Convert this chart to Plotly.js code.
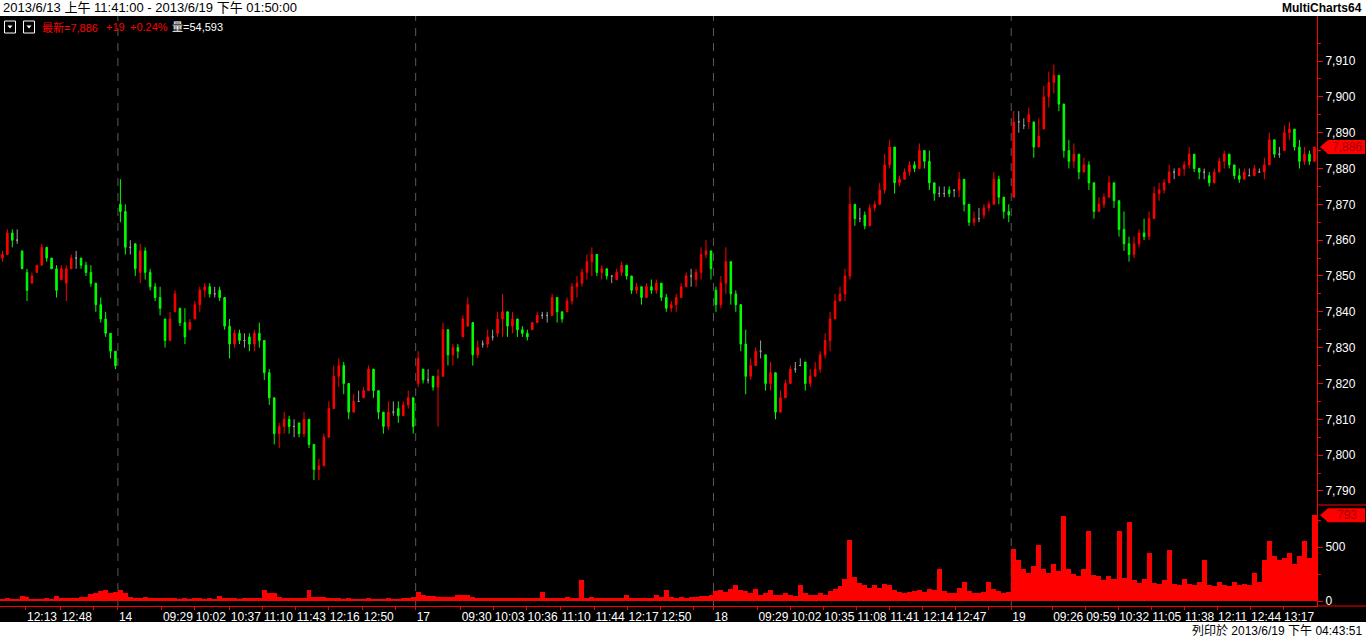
<!DOCTYPE html>
<html><head><meta charset="utf-8">
<script src="https://cdn.plot.ly/plotly-3.0.1.min.js"></script>
<style>html,body{margin:0;padding:0;background:#000;overflow:hidden}#chart{width:1366px;height:638px}</style>
</head><body><div id="chart"></div>
<script>
// ---- data (5-minute bars) ----
const sessionDays  = ['2013-06-13','2013-06-14','2013-06-17','2013-06-18','2013-06-19'];
const sessionOpen  = ['11:47:00','08:45:00','08:45:00','08:45:00','08:45:00'];
const sessionClose = ['13:45:00','13:43:00','13:43:00','13:43:00','13:51:00'];

const open13  = [7855,7856,7862,7860,7857,7851,7848,7851,7853,7858,7855,7852,7849,7848,7852,7855,7855,7853,7851,7848,7842,7838,7834,7829];
const high13  = [7857,7863,7863,7863,7857,7852,7851,7853,7859,7858,7855,7853,7853,7853,7856,7857,7855,7854,7853,7848,7844,7840,7834,7829];
const low13   = [7854,7856,7858,7859,7852,7843,7848,7851,7853,7854,7852,7844,7849,7843,7852,7852,7852,7850,7847,7840,7837,7833,7827,7824];
const close13 = [7856,7862,7860,7860,7852,7846,7850,7853,7858,7855,7852,7846,7852,7852,7855,7855,7853,7851,7848,7842,7838,7834,7829,7825];
const vol13   = [20,25,20,20,45,35,20,15,20,25,20,45,25,30,25,30,35,40,65,75,90,100,70,85];

const open14  = [7870,7868,7858,7859,7851,7857,7851,7847,7844,7838,7832,7840,7841,7837,7835,7838,7842,7846,7847,7845,7846,7844,7836,7831,7834,7832,7833,7831,7834,7832,7823,7816,7806,7808,7810,7808,7809,7806,7810,7803,7796,7797,7805,7813,7822,7825,7820,7812,7815,7816,7818,7824,7818,7812,7808,7812,7813,7811,7814,7816];
const high14  = [7877,7870,7860,7859,7859,7858,7852,7848,7847,7838,7840,7846,7841,7841,7838,7843,7847,7848,7848,7847,7847,7844,7838,7835,7835,7834,7834,7835,7837,7831,7824,7815,7809,7812,7811,7810,7809,7812,7808,7802,7799,7806,7815,7825,7827,7826,7818,7817,7818,7819,7825,7823,7816,7811,7815,7815,7815,7815,7818,7815];
const low14   = [7865,7856,7856,7850,7848,7849,7846,7843,7839,7830,7832,7840,7836,7831,7835,7838,7840,7844,7844,7844,7843,7835,7827,7830,7831,7830,7829,7829,7830,7821,7814,7803,7802,7806,7806,7805,7805,7805,7802,7793,7793,7797,7806,7815,7819,7817,7810,7812,7815,7816,7820,7816,7810,7806,7807,7811,7809,7811,7813,7806];
const close14 = [7868,7858,7858,7852,7857,7851,7847,7844,7841,7832,7838,7845,7837,7833,7837,7842,7846,7847,7845,7845,7844,7836,7831,7834,7832,7832,7831,7834,7832,7823,7816,7806,7808,7810,7808,7808,7806,7810,7803,7796,7797,7805,7813,7822,7825,7820,7812,7815,7815,7818,7824,7818,7812,7808,7812,7812,7811,7814,7816,7808];
const vol14   = [100,70,40,30,30,35,30,25,30,25,30,25,20,25,20,25,25,20,25,20,50,30,25,25,20,25,25,30,30,100,75,70,35,30,25,25,30,30,100,40,35,35,30,30,25,20,25,20,20,20,25,20,20,20,25,20,20,25,25,40];

const open17  = [7820,7824,7821,7822,7819,7822,7835,7828,7830,7833,7836,7837,7828,7831,7831,7833,7834,7838,7840,7836,7838,7835,7834,7835,7837,7839,7839,7839,7844,7840,7840,7843,7847,7848,7851,7854,7856,7851,7852,7850,7849,7851,7853,7850,7846,7847,7844,7847,7846,7848,7844,7841,7842,7844,7847,7850,7849,7851,7856,7857];
const high17  = [7829,7824,7824,7822,7824,7837,7832,7831,7831,7839,7844,7837,7832,7832,7835,7835,7840,7845,7840,7840,7837,7836,7835,7837,7840,7840,7840,7845,7844,7840,7844,7848,7850,7852,7856,7858,7854,7853,7852,7850,7852,7854,7853,7849,7848,7847,7848,7849,7849,7847,7845,7843,7845,7848,7851,7852,7852,7858,7860,7855];
const low17   = [7819,7820,7820,7818,7808,7824,7825,7825,7827,7833,7836,7825,7827,7830,7830,7832,7833,7833,7833,7834,7833,7833,7832,7835,7837,7838,7837,7839,7837,7837,7840,7842,7844,7847,7849,7850,7850,7849,7849,7848,7849,7850,7849,7845,7845,7842,7845,7845,7845,7843,7840,7840,7840,7844,7847,7847,7847,7849,7855,7849];
const close17 = [7827,7821,7821,7819,7822,7835,7828,7830,7829,7838,7842,7828,7830,7831,7833,7833,7838,7840,7836,7838,7835,7834,7833,7837,7839,7839,7839,7844,7840,7838,7843,7847,7848,7851,7854,7856,7851,7852,7850,7850,7851,7853,7850,7846,7847,7844,7847,7846,7848,7844,7841,7842,7844,7847,7850,7850,7851,7856,7857,7852];
const vol17   = [85,55,50,45,40,35,35,40,55,60,55,40,25,25,25,25,30,25,25,25,25,25,30,25,30,85,30,25,25,30,35,30,30,195,30,35,30,25,25,30,25,30,55,30,25,25,25,30,55,35,100,35,30,35,30,35,40,45,50,55];

const open18  = [7846,7842,7848,7854,7845,7842,7831,7822,7825,7829,7828,7820,7823,7812,7816,7820,7824,7825,7826,7820,7822,7824,7828,7832,7838,7843,7845,7850,7870,7866,7867,7864,7869,7870,7874,7881,7886,7876,7877,7879,7881,7880,7885,7882,7876,7873,7873,7874,7874,7874,7877,7870,7865,7866,7867,7869,7870,7877,7872,7868];
const high18  = [7847,7850,7858,7852,7846,7840,7835,7827,7830,7832,7828,7826,7821,7818,7821,7825,7826,7827,7826,7824,7826,7829,7834,7840,7845,7847,7852,7875,7869,7869,7868,7870,7871,7876,7884,7888,7882,7878,7880,7882,7882,7887,7885,7885,7876,7875,7875,7875,7874,7879,7877,7868,7868,7869,7870,7871,7879,7878,7870,7870];
const low18   = [7840,7841,7845,7842,7840,7829,7817,7821,7825,7827,7818,7818,7810,7813,7817,7822,7823,7825,7818,7819,7822,7823,7827,7829,7838,7843,7843,7849,7864,7865,7863,7866,7868,7870,7873,7880,7873,7875,7877,7878,7879,7880,7880,7874,7871,7872,7872,7872,7872,7872,7868,7864,7864,7865,7866,7868,7871,7870,7866,7865];
const close18 = [7842,7848,7854,7845,7842,7831,7822,7825,7829,7829,7820,7823,7812,7816,7820,7824,7824,7825,7820,7822,7824,7828,7832,7838,7843,7845,7850,7870,7866,7866,7864,7869,7870,7874,7881,7886,7876,7877,7879,7881,7880,7885,7882,7876,7873,7873,7873,7873,7874,7877,7870,7865,7866,7866,7869,7870,7877,7872,7868,7867];
const vol18   = [90,100,80,110,150,100,90,70,110,60,70,100,60,60,70,55,50,150,70,55,60,70,60,90,110,140,200,565,220,170,150,120,150,120,160,150,100,85,75,85,90,100,85,110,100,300,90,75,70,120,180,90,75,70,80,180,110,90,75,85];

const open19  = [7872,7893,7892,7893,7893,7886,7891,7900,7904,7906,7898,7885,7882,7884,7879,7881,7876,7868,7870,7872,7876,7871,7863,7859,7856,7859,7862,7861,7866,7873,7874,7876,7879,7878,7880,7881,7884,7880,7879,7878,7876,7879,7882,7884,7881,7878,7877,7878,7878,7879,7879,7881,7888,7884,7885,7890,7891,7886,7882,7884,7882];
const high19  = [7896,7896,7894,7897,7891,7894,7903,7907,7909,7906,7896,7888,7887,7883,7883,7882,7874,7872,7873,7878,7874,7870,7868,7861,7861,7863,7866,7868,7875,7876,7877,7881,7880,7880,7882,7886,7883,7880,7880,7879,7880,7883,7885,7884,7880,7880,7880,7880,7881,7880,7883,7890,7888,7886,7892,7893,7890,7888,7886,7885,7886];
const low19   = [7872,7890,7891,7891,7883,7886,7891,7897,7901,7896,7883,7880,7880,7877,7879,7874,7866,7868,7869,7872,7869,7861,7857,7854,7855,7858,7860,7860,7868,7871,7873,7876,7877,7878,7878,7880,7879,7877,7877,7875,7877,7880,7880,7880,7877,7876,7878,7878,7878,7879,7877,7882,7883,7883,7886,7888,7885,7880,7881,7881,7882];
const close19 = [7893,7893,7892,7895,7886,7889,7900,7904,7906,7898,7885,7882,7884,7879,7881,7876,7868,7870,7872,7876,7871,7863,7859,7856,7859,7862,7861,7866,7873,7874,7876,7879,7879,7880,7881,7884,7880,7879,7879,7876,7879,7882,7884,7881,7878,7877,7879,7878,7880,7879,7881,7888,7884,7884,7890,7891,7886,7882,7884,7882,7886];
const vol19   = [480,380,300,260,320,520,300,260,340,280,790,300,250,230,300,650,240,230,190,230,200,650,210,730,190,170,200,440,170,160,190,470,160,150,200,160,150,180,380,150,140,180,150,140,180,150,160,150,260,180,380,560,420,380,400,440,340,420,560,400,793];

const priceTicks = [7790,7800,7810,7820,7830,7840,7850,7860,7870,7880,7890,7900,7910];
const volumeTicks = [0, 500];
const tickTimes = ['2013-06-13 12:13','2013-06-13 12:48','2013-06-13 13:21','2013-06-14 08:45','2013-06-14 09:29','2013-06-14 10:02','2013-06-14 10:37','2013-06-14 11:10','2013-06-14 11:43','2013-06-14 12:16','2013-06-14 12:50','2013-06-14 13:23','2013-06-17 08:45','2013-06-17 09:30','2013-06-17 10:03','2013-06-17 10:36','2013-06-17 11:10','2013-06-17 11:44','2013-06-17 12:17','2013-06-17 12:50','2013-06-17 13:23','2013-06-18 08:45','2013-06-18 09:29','2013-06-18 10:02','2013-06-18 10:35','2013-06-18 11:08','2013-06-18 11:41','2013-06-18 12:14','2013-06-18 12:47','2013-06-18 13:20','2013-06-19 08:45','2013-06-19 09:26','2013-06-19 09:59','2013-06-19 10:32','2013-06-19 11:05','2013-06-19 11:38','2013-06-19 12:11','2013-06-19 12:44','2013-06-19 13:17'];
const tickLabels = ['12:13','12:48','','14','09:29','10:02','10:37','11:10','11:43','12:16','12:50','','17','09:30','10:03','10:36','11:10','11:44','12:17','12:50','','18','09:29','10:02','10:35','11:08','11:41','12:14','12:47','','19','09:26','09:59','10:32','11:05','11:38','12:11','12:44','13:17'];

const headerText = '2013/6/13 上午 11:41:00 - 2013/6/19 下午 01:50:00';
const brandText = 'MultiCharts64';
const printedText = '列印於 2013/6/19 下午 04:43:51';
const lastLabel = '最新=7,886';
const changeLabel = '+19';
const pctLabel = '+0.24%';
const volLabel = '量=54,593';

// ---- assemble ----
const opens = [open13, open14, open17, open18, open19];
const highs = [high13, high14, high17, high18, high19];
const lows = [low13, low14, low17, low18, low19];
const closes = [close13, close14, close17, close18, close19];
const vols = [vol13, vol14, vol17, vol18, vol19];

const X = [], O = [], H = [], L = [], C = [], V = [], BW = [];
sessionDays.forEach((d, i) => {
  const t0 = Date.parse(d + 'T' + sessionOpen[i] + 'Z');
  const t1 = Date.parse(d + 'T' + sessionClose[i] + 'Z');
  const n = opens[i].length, step = (t1 - t0) / n;
  opens[i].forEach((o, k) => {
    X.push(new Date(t0 + (k + 0.5) * step).toISOString().slice(0, 23).replace('T', ' '));
    O.push(o); H.push(highs[i][k]); L.push(lows[i][k]); C.push(closes[i][k]); V.push(vols[i][k]); BW.push(step);
  });
});

function subset(test) {
  const r = {x: [], open: [], high: [], low: [], close: []};
  X.forEach((x, i) => { if (test(O[i], C[i])) { r.x.push(x); r.open.push(O[i]); r.high.push(H[i]); r.low.push(L[i]); r.close.push(C[i]); } });
  return r;
}
function candle(d, col) {
  return Object.assign({type: 'candlestick', xaxis: 'x', yaxis: 'y', whiskerwidth: 0, hoverinfo: 'skip',
    increasing: {line: {color: col, width: 1}, fillcolor: col},
    decreasing: {line: {color: col, width: 1}, fillcolor: col}}, d);
}
const traces = [
  {type: 'bar', x: X, y: V, width: BW, xaxis: 'x', yaxis: 'y2', marker: {color: '#ff0000', line: {width: 0}}, hoverinfo: 'skip'},
  candle(subset((o, c) => c === o), '#a0a0a0'),
  candle(subset((o, c) => c > o), '#ff0000'),
  candle(subset((o, c) => c < o), '#00ff00')
];

const W = 1366, HT = 638, ML = 0, MR = 49, MT = 16, MB = 32;
const PW = W - ML - MR, PH = HT - MT - MB;
const px = v => (v - ML) / PW;
const py = v => (HT - MB - v) / PH;
const FONT = 'Liberation Sans, Noto Sans CJK TC, sans-serif';

const lastClose = C[C.length - 1];
const lastVol = V[V.length - 1];
const priceHalf = 7 / 3.583, volHalf = 7 / 0.108;

const nightBreaks = [];
for (let i = 0; i < sessionDays.length - 1; i++) nightBreaks.push({bounds: [sessionDays[i] + ' ' + sessionClose[i], sessionDays[i + 1] + ' ' + sessionOpen[i + 1]]});

const shapes = [
  {type: 'rect', xref: 'paper', yref: 'paper', x0: px(0), x1: px(W), y0: py(16), y1: py(0), fillcolor: '#ffffff', line: {width: 0}},
  {type: 'rect', xref: 'paper', yref: 'paper', x0: px(0), x1: px(W), y0: py(638), y1: py(622), fillcolor: '#ffffff', line: {width: 0}},
  {type: 'line', xref: 'paper', yref: 'paper', x0: 1, x1: px(W), y0: py(505), y1: py(505), line: {color: '#ff0000', width: 1}},
  {type: 'line', xref: 'paper', yref: 'paper', x0: 1, x1: px(W), y0: 0, y1: 0, line: {color: '#ff0000', width: 1}},
  {type: 'rect', xref: 'paper', yref: 'paper', x0: px(4.5), x1: px(15.5), y0: py(33), y1: py(21), line: {color: '#ffffff', width: 1}},
  {type: 'rect', xref: 'paper', yref: 'paper', x0: px(23.5), x1: px(34.5), y0: py(33), y1: py(21), line: {color: '#ffffff', width: 1}},
  {type: 'path', xref: 'paper', yref: 'paper', path: `M ${px(7.5)} ${py(25.5)} L ${px(12.5)} ${py(25.5)} L ${px(10)} ${py(28.5)} Z`, fillcolor: '#ffffff', line: {width: 0}},
  {type: 'path', xref: 'paper', yref: 'paper', path: `M ${px(26.5)} ${py(25.5)} L ${px(31.5)} ${py(25.5)} L ${px(29)} ${py(28.5)} Z`, fillcolor: '#ffffff', line: {width: 0}},
  {type: 'path', xref: 'paper', yref: 'y', path: `M ${px(1320)} ${lastClose} L ${px(1328)} ${lastClose + priceHalf} L ${px(1365)} ${lastClose + priceHalf} L ${px(1365)} ${lastClose - priceHalf} L ${px(1328)} ${lastClose - priceHalf} Z`, fillcolor: '#ff0000', line: {width: 0}},
  {type: 'path', xref: 'paper', yref: 'y2', path: `M ${px(1320)} ${lastVol} L ${px(1328)} ${lastVol + volHalf} L ${px(1365)} ${lastVol + volHalf} L ${px(1365)} ${lastVol - volHalf} L ${px(1328)} ${lastVol - volHalf} Z`, fillcolor: '#ff0000', line: {width: 0}}
];
sessionDays.slice(1).forEach((d, i) => shapes.push({type: 'line', xref: 'x', yref: 'paper', x0: d + ' ' + sessionOpen[i + 1], x1: d + ' ' + sessionOpen[i + 1], y0: 0, y1: 1, layer: 'below', line: {color: '#5a5a5a', width: 1, dash: '8px,7px'}}));

const ann = (x, y, text, opts) => Object.assign({xref: 'paper', yref: 'paper', x: px(x), y: py(y), text: text, showarrow: false, xanchor: 'left', yanchor: 'middle', font: {family: FONT, size: 12, color: '#ffffff'}}, opts || {});
const annotations = [
  ann(1, 8, headerText, {font: {family: FONT, size: 13, color: '#000000'}}),
  ann(1364, 8, '<b>' + brandText + '</b>', {xanchor: 'right', font: {family: FONT, size: 12, color: '#000000'}}),
  ann(1364, 630, printedText, {xanchor: 'right', font: {family: FONT, size: 12, color: '#000000'}}),
  ann(40, 27, lastLabel, {font: {family: FONT, size: 11, color: '#ff0000'}}),
  ann(104, 27, changeLabel, {font: {family: FONT, size: 11, color: '#ff0000'}}),
  ann(128, 27, pctLabel, {font: {family: FONT, size: 11, color: '#ff0000'}}),
  ann(170, 27, volLabel, {font: {family: FONT, size: 11, color: '#ffffff'}}),
  {xref: 'paper', yref: 'y', x: px(1347), y: lastClose, text: lastClose.toLocaleString('en-US'), showarrow: false, xanchor: 'center', yanchor: 'middle', font: {family: FONT, size: 12, color: '#a00000'}},
  {xref: 'paper', yref: 'y2', x: px(1347), y: lastVol, text: String(lastVol), showarrow: false, xanchor: 'center', yanchor: 'middle', font: {family: FONT, size: 12, color: '#a00000'}}
];

const yCommon = {side: 'right', showgrid: false, zeroline: false, showline: true, linecolor: '#ff0000', linewidth: 1,
  ticks: 'outside', ticklen: 5, tickcolor: '#ff0000', tickwidth: 1, tickfont: {family: FONT, size: 12, color: '#ffffff'}, fixedrange: true};

const layout = {
  width: W, height: HT, margin: {l: ML, r: MR, t: MT, b: MB},
  paper_bgcolor: '#000000', plot_bgcolor: '#000000', showlegend: false, hovermode: false,
  bargap: 0, boxgap: 0.55, dragmode: false,
  xaxis: {type: 'date', anchor: 'y2', range: [sessionDays[0] + ' ' + sessionOpen[0], sessionDays[4] + ' ' + sessionClose[4]], rangebreaks: nightBreaks,
    rangeslider: {visible: false}, showgrid: false, zeroline: false, showline: true, linecolor: '#ff0000', linewidth: 1,
    ticks: 'outside', ticklen: 3, tickcolor: '#ff0000', tickmode: 'array', tickvals: tickTimes, ticktext: tickLabels,
    ticklabelposition: 'outside right', tickangle: 0, tickfont: {family: FONT, size: 12, color: '#ffffff'}, fixedrange: true},
  yaxis: Object.assign({}, yCommon, {domain: [py(505), 1], range: [7910 - (505 - 61) / 3.583, 7910 + (61 - 16) / 3.583],
    tickmode: 'array', tickvals: priceTicks, ticktext: priceTicks.map(v => v.toLocaleString('en-US')),
    minor: {tickmode: 'array', tickvals: priceTicks.map(v => v + 5), ticks: 'outside', ticklen: 3, tickcolor: '#ff0000'}}),
  yaxis2: Object.assign({}, yCommon, {domain: [0, py(505)], range: [-(606 - 601) / 0.108, (601 - 505) / 0.108],
    tickmode: 'array', tickvals: volumeTicks, ticktext: volumeTicks.map(String),
    minor: {tickmode: 'array', tickvals: [250, 750], ticks: 'outside', ticklen: 3, tickcolor: '#ff0000'}}),
  shapes: shapes, annotations: annotations
};

Plotly.newPlot('chart', traces, layout, {staticPlot: true, displayModeBar: false});
</script>
</body></html>
